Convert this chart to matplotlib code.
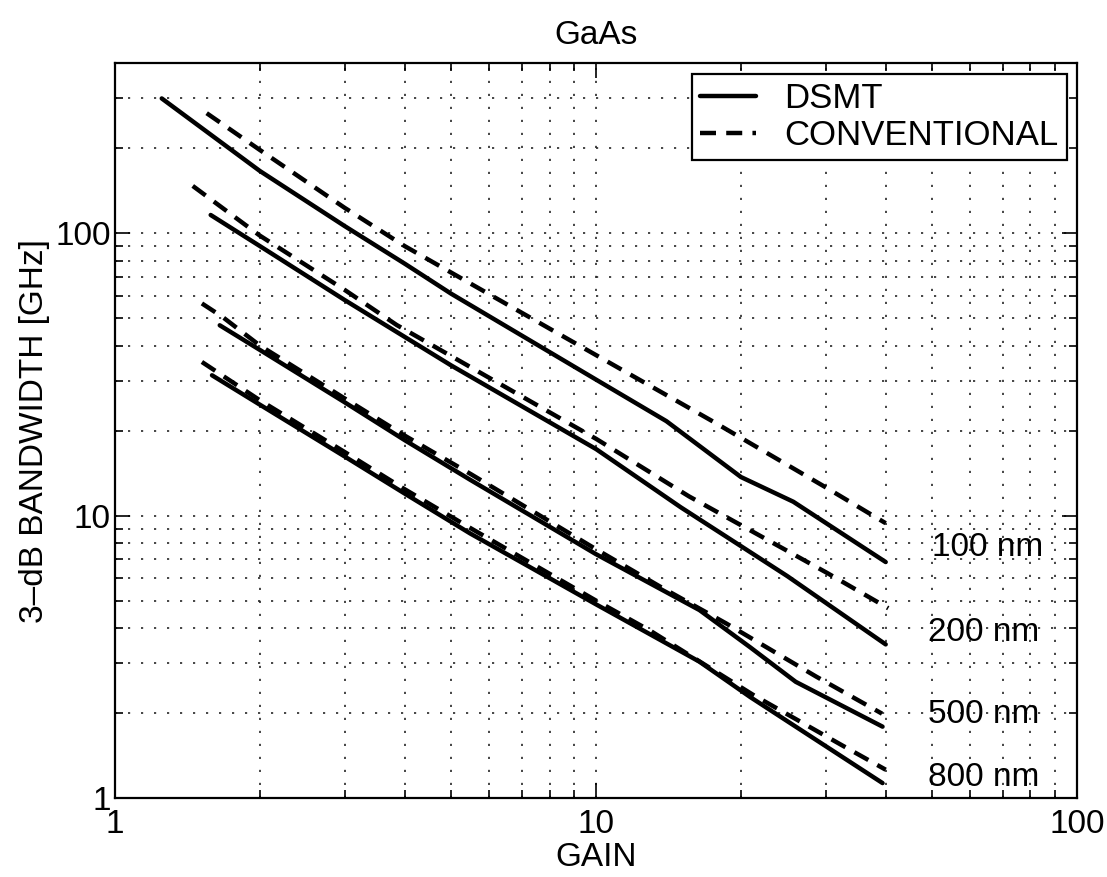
import matplotlib
matplotlib.use("Agg")
import matplotlib.pyplot as plt
from matplotlib.ticker import LogLocator, NullFormatter, FixedLocator, FixedFormatter

plt.rcParams['font.family'] = ['Liberation Sans', 'DejaVu Sans']

# ---- data ----
g_100_dsmt = [1.25, 2, 3, 4, 5, 10, 14, 20, 25.7, 40]
b_100_dsmt = [300, 166, 106, 78, 61, 30.3, 21.6, 13.7, 11.2, 6.85]
g_100_conv = [1.55, 2, 3, 4, 10, 17.7, 30, 40]
b_100_conv = [266, 197, 123, 90, 37, 21.3, 12.6, 9.4]

g_200_dsmt = [1.58, 2, 3, 5, 10, 15, 20, 25, 40]
b_200_dsmt = [116, 90, 58, 34, 17.2, 10.7, 7.8, 6.1, 3.5]
g_200_conv = [1.45, 2, 3, 3.85, 10, 15.6, 30.3, 40.5]
b_200_conv = [147, 98, 63, 47.3, 18.7, 11.7, 6.25, 4.7]

g_500_dsmt = [1.65, 2, 3, 4, 5.47, 10, 16.4, 20.9, 26, 39.4]
b_500_dsmt = [47.2, 38.6, 25.2, 18.5, 13.4, 7.3, 4.63, 3.42, 2.58, 1.79]
g_500_conv = [1.515, 1.67, 2, 3, 4, 5.5, 10, 13.6, 18.65, 28.7, 39.3]
b_500_conv = [56.4, 50.6, 40, 26, 19.2, 14, 7.6, 5.6, 4.15, 2.69, 1.99]

g_800_dsmt = [1.59, 2, 3, 4, 5.47, 10, 16.4, 20.9, 26, 39.4]
b_800_dsmt = [31.4, 24.7, 16.2, 11.97, 8.65, 4.85, 3.04, 2.28, 1.79, 1.13]
g_800_conv = [1.515, 2, 3, 4, 5.5, 10, 13, 21.2, 32.4, 40]
b_800_conv = [35, 25.6, 16.8, 12.4, 9.0, 5.0, 3.9, 2.32, 1.54, 1.26]

node_labels = ["100 nm", "200 nm", "500 nm", "800 nm"]
label_gain = [50, 49, 49, 49]
label_bw = [7.7, 3.87, 1.97, 1.18]

series_dsmt = [(g_100_dsmt, b_100_dsmt), (g_200_dsmt, b_200_dsmt),
               (g_500_dsmt, b_500_dsmt), (g_800_dsmt, b_800_dsmt)]
series_conv = [(g_100_conv, b_100_conv), (g_200_conv, b_200_conv),
               (g_500_conv, b_500_conv), (g_800_conv, b_800_conv)]

fig = plt.figure(figsize=(11.07, 8.77), dpi=100)
ax = fig.add_axes([0.104, 0.090, 0.869, 0.838])

LW = 3.2
dash = (0, (3.6, 2.3))
for i, (g, b) in enumerate(series_dsmt):
    ax.plot(g, b, color='black', lw=LW, solid_capstyle='round',
            label='DSMT' if i == 0 else None)
for i, (g, b) in enumerate(series_conv):
    ax.plot(g, b, color='black', lw=LW, linestyle=dash, dash_capstyle='butt',
            label='CONVENTIONAL' if i == 0 else None)

ax.set_xscale('log')
ax.set_yscale('log')
ax.set_xlim(1, 100)
ax.set_ylim(1, 400)

FS = 24
ax.xaxis.set_major_locator(FixedLocator([1, 10, 100]))
ax.xaxis.set_major_formatter(FixedFormatter(['1', '10', '100']))
ax.yaxis.set_major_locator(FixedLocator([1, 10, 100]))
ax.yaxis.set_major_formatter(FixedFormatter(['1', '10', '100']))
ax.xaxis.set_minor_locator(LogLocator(base=10, subs=range(2, 10)))
ax.yaxis.set_minor_locator(LogLocator(base=10, subs=range(2, 10)))
ax.xaxis.set_minor_formatter(NullFormatter())
ax.yaxis.set_minor_formatter(NullFormatter())

ax.tick_params(which='both', direction='in', top=True, right=True,
               labelsize=FS, width=1.2, color='black')
ax.tick_params(which='major', length=11)
ax.tick_params(which='minor', length=6)
ax.tick_params(axis='x', which='major', pad=8)
ax.tick_params(axis='y', which='major', pad=3)

ax.grid(True, which='both', color='0.15', linestyle=(0, (1.3, 6.5)), lw=1.2)
for s in ax.spines.values():
    s.set_linewidth(1.6)

for lab, gx, by in zip(node_labels, label_gain, label_bw):
    ax.text(gx, by, lab, fontsize=FS, va='center', ha='left')

ax.set_title('GaAs', fontsize=FS, pad=14)
ax.set_xlabel('GAIN', fontsize=FS, labelpad=1)
ax.set_ylabel('3–dB BANDWIDTH [GHz]', fontsize=FS, labelpad=4)

leg = ax.legend(loc='upper right', fontsize=FS + 1, frameon=True, fancybox=False,
                edgecolor='black', framealpha=1, borderaxespad=0.3,
                handlelength=1.6, handletextpad=0.8, borderpad=0.25,
                labelspacing=0.1)
leg.get_frame().set_linewidth(1.6)

fig.savefig('out.png', dpi=100)
